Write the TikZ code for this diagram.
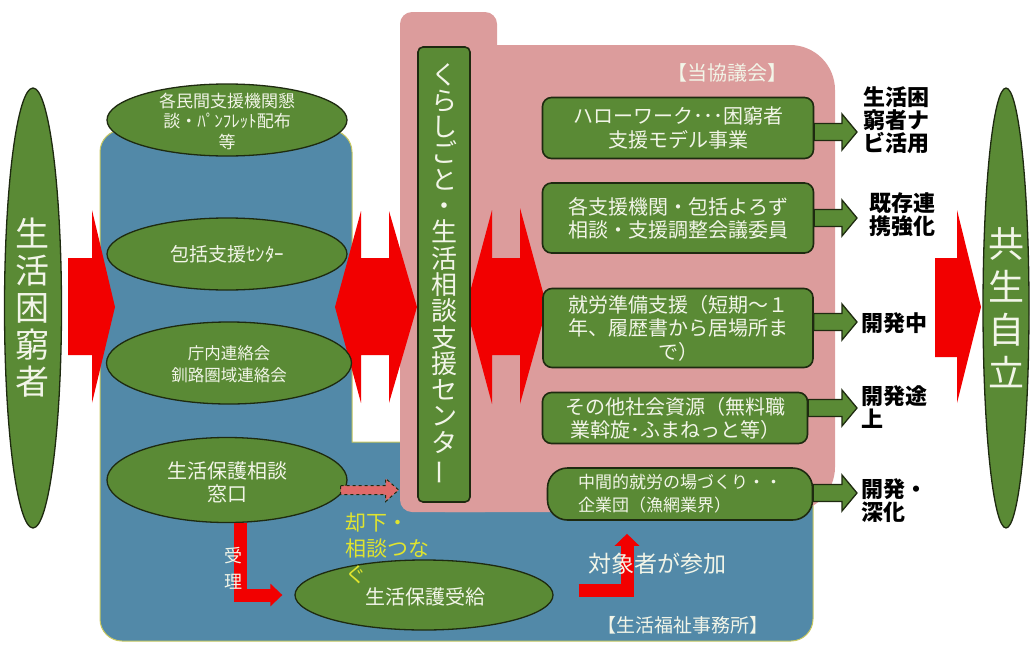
\documentclass[tikz,border=0pt]{standalone}
\usepackage{fontspec}
\usepackage{graphicx}
\setmainfont{Noto Sans CJK JP}
\usetikzlibrary{calc,arrows.meta,shapes.geometric}
\definecolor{gfill}{HTML}{5A8A35}
\definecolor{gline}{HTML}{1E2A10}
\definecolor{bluec}{HTML}{5289A8}
\definecolor{pinkc}{HTML}{DC9C9C}
\definecolor{dpink}{HTML}{E06A6A}
\definecolor{redc}{HTML}{F20000}
\definecolor{txtw}{HTML}{F2F5E8}
\definecolor{yellowc}{HTML}{E0E42E}
\definecolor{bord}{HTML}{C8C860}
\newcommand\fs[2]{\fontsize{#1pt}{#2pt}\selectfont}
\newcommand\vbar{\rotatebox[origin=c]{90}{ー}}
\begin{document}
\begin{tikzpicture}[x=1pt,y=-1pt,
  ell/.style={ellipse, draw=gline, line width=1.3, fill=gfill, inner sep=0pt},
  gbox/.style={rectangle, rounded corners=9pt, draw=gline, line width=1.6, fill=gfill, inner sep=0pt, text=txtw, align=center},
  lbl/.style={text=black, align=left, font=\fs{22}{23}\bfseries, inner sep=0pt, anchor=west},
  wtxt/.style={text=txtw, inner sep=0pt, align=center},
  garrow/.style={fill=gfill, draw=gline, line width=1.3, line join=miter},
  bigred/.style={fill=redc},
  redl/.style={draw=redc, line width=13, line join=miter},
]
\useasboundingbox (0,0) rectangle (1030,645);
% regions
\draw[fill=bluec, draw=bord, line width=1] (100,400) [rounded corners=22] -- (100,130) -- (352,130) -- (352,300) [sharp corners] -- (352,442) -- (500,442) [rounded corners=22] -- (813,442) -- (813,641) -- (100,641) -- cycle;
\fill[pinkc, rounded corners=12] (400,12) rectangle (497,512);
\fill[pinkc, rounded corners=45] (400,45) rectangle (835,512);
% big red arrows
\fill[bigred] (68,258) -- (92,258) -- (92,210) -- (115,307) -- (92,403) -- (92,355) -- (68,355) -- cycle;
\fill[bigred] (335,307) -- (361,211) -- (361,258) -- (389,258) -- (389,211) -- (417,307) -- (389,403) -- (389,355) -- (361,355) -- (361,403) -- cycle;
\fill[bigred] (466,307) -- (492,210) -- (492,258) -- (520,258) -- (520,208) -- (547,307) -- (520,404) -- (520,355) -- (492,355) -- (492,404) -- cycle;
\fill[bigred] (935,258) -- (957,258) -- (957,210) -- (981,307) -- (957,403) -- (957,357) -- (935,357) -- cycle;
% side ellipses
\node[ell, minimum width=57, minimum height=440] (left) at (33,308) {};
\node[wtxt, font=\fs{34}{37}] at (left) {生\\活\\困\\窮\\者};
\node[ell, minimum width=46, minimum height=440] (right) at (1006,308) {};
\node[wtxt, font=\fs{36}{43}] at (right) {共\\生\\自\\立};
% ellipses in blue column
\node[ell, minimum width=240, minimum height=72] (e1) at (227,120) {};
\node[wtxt, font=\fs{17}{20.5}] at (227,121) {各民間支援機関懇\\談・ﾊﾟﾝﾌﾚｯﾄ配布\\等};
\node[ell, minimum width=240, minimum height=72] (e2) at (227,254) {};
\node[wtxt, font=\fs{19}{22}] at (e2) {包括支援ｾﾝﾀｰ};
\node[ell, minimum width=245, minimum height=82] (e3) at (229,363) {};
\node[wtxt, font=\fs{16.5}{22}] at (229,364) {庁内連絡会\\釧路圏域連絡会};
\node[ell, minimum width=240, minimum height=85] (e4) at (227,480) {};
\node[wtxt, font=\fs{20}{23}] at (227,482) {生活保護相談\\窓口};
\node[ell, minimum width=258, minimum height=70] (e5) at (424,595) {};
\node[wtxt, font=\fs{20}{23}] at (425,597) {生活保護受給};
% vertical center box
\node[gbox, rounded corners=5pt, minimum width=52, minimum height=455, font=\fs{26}{26.3}] (kc) at (444,274.5) {く\\ら\\し\\ご\\と\\・\\生\\活\\相\\談\\支\\援\\セ\\ン\\タ\\\vbar};
% boxes in pink
\node[gbox, minimum width=271, minimum height=61, font=\fs{20}{24}] (b1) at (678,128) {ハローワーク･･･困窮者\\支援モデル事業};
\node[gbox, minimum width=271, minimum height=70, font=\fs{20}{23}] (b2) at (678,218) {各支援機関・包括よろず\\相談・支援調整会議委員};
\node[gbox, minimum width=270, minimum height=79, font=\fs{20}{23.5}] (b3) at (678,328) {就労準備支援（短期～１\\年、履歴書から居場所ま\\で）};
\node[gbox, minimum width=265, minimum height=51, font=\fs{20}{23}] (b4) at (675,418) {その他社会資源（無料職\\業斡旋･ふまねっと等）};
\node[gbox, rounded corners=20pt, minimum width=265, minimum height=52, font=\fs{17}{23}, align=left] (b5) at (680,494) {中間的就労の場づくり・・\\企業団（漁網業界）};
% green arrows
\foreach \b/\y in {b1/132,b2/218,b3/322,b4/408,b5/493} {
  \draw[garrow] ($(\b.east |- 0,\y)+(0,-8.5)$) -- (842,\y-8.5) -- (842,\y-18) -- (857,\y) -- (842,\y+18) -- (842,\y+8.5) -- ($(\b.east |- 0,\y)+(0,8.5)$) -- cycle;
}
% right labels
\node[lbl] (l1) at (863,120) {生活困\\窮者ナ\\ビ活用};
\node[lbl] (l2) at (869,215) {既存連\\携強化};
\node[lbl] (l3) at (861,323) {開発中};
\node[lbl] (l4) at (861,407) {開発途\\上};
\node[lbl] (l5) at (861,501) {開発・\\深化};
% small arrows
\draw[fill=dpink, draw=gline, dashed, line width=1] ($(e4.east)+(-7,5.5)$) -- ++(45,0) -- ++(0,-7) -- ++(13,11.5) -- ++(-13,11.5) -- ++(0,-7) -- ++(-45,0) -- cycle;
\draw[redl, -{Triangle[length=12pt,width=22pt]}] ($(e4.south)+(13,0)$) |- ($(e5.west)+(-12,0)$);
\draw[redl, -{Triangle[length=12pt,width=24pt]}] ($(e5.east)+(25,-5)$) -| ($(b5.south)+(-53,13)$);
% texts
\node[wtxt, font=\fs{20}{24}] (kyo) at (727,73) {【当協議会】};
\node[wtxt, font=\fs{19}{23}] (jim) at (683,625) {【生活福祉事務所】};
\node[wtxt, font=\fs{23}{26}] (sanka) at (657,564) {対象者が参加};
\node[wtxt, font=\fs{18}{26}] (juri) at (233,568) {受\\理};
\node[text=yellowc, inner sep=0pt, align=left, anchor=west, font=\fs{21}{26}] (kyak) at (345,548) {却下・\\相談つな\\ぐ};
\end{tikzpicture}
\end{document}
